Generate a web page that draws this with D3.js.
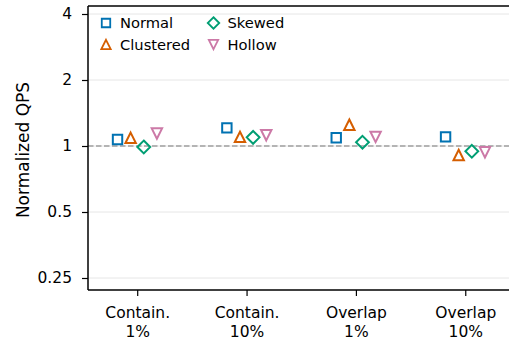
<!DOCTYPE html>
<html>
<head>
<meta charset="utf-8">
<script src="https://cdn.jsdelivr.net/npm/d3@7"></script>
<style>
  body { margin: 0; background: #fff; }
  svg { font-family: "DejaVu Sans", sans-serif; }
</style>
</head>
<body>
<div id="chart"></div>
<script>
// categories on the x axis
var categories = ["Contain.\n1%", "Contain.\n10%", "Overlap\n1%", "Overlap\n10%"];

// series values (normalized QPS)
var normal    = [1.07, 1.21, 1.09, 1.10];
var clustered = [1.09, 1.10, 1.25, 0.91];
var skewed    = [0.99, 1.095, 1.04, 0.946];
var hollow    = [1.14, 1.12, 1.10, 0.936];

var seriesNames = ["Normal", "Clustered", "Skewed", "Hollow"];
var yTicks = [0.25, 0.5, 1, 2, 4];

var series = [
    { name: "Normal", values: normal, color: "#0072B2", shape: "square" },
    { name: "Clustered", values: clustered, color: "#D55E00", shape: "up" },
    { name: "Skewed", values: skewed, color: "#009E73", shape: "diamond" },
    { name: "Hollow", values: hollow, color: "#CC79A7", shape: "down" }
];

var width = 509,
    height = 345;
var margin = { left: 88, right: 0, top: 6, bottom: 55 };

var svg = d3.select("#chart").append("svg")
    .attr("width", width)
    .attr("height", height);

var x = d3.scaleLinear()
    .domain([-0.45, 3.4])
    .range([margin.left, width - margin.right]);

var y = d3.scaleLog()
    .base(2)
    .domain([0.25 / Math.pow(2, 12 / 66), 4 * Math.pow(2, 8 / 66)])
    .range([height - margin.bottom, margin.top]);

var offsets = [-0.18, -0.06, 0.06, 0.18];

// grid
svg.append("g")
    .selectAll("line")
    .data(yTicks)
    .enter().append("line")
    .attr("x1", margin.left)
    .attr("x2", width - margin.right)
    .attr("y1", function (d) { return y(d); })
    .attr("y2", function (d) { return y(d); })
    .attr("stroke", "#e6e6e6")
    .attr("stroke-width", 1);

// reference line at 1
svg.append("line")
    .attr("x1", margin.left)
    .attr("x2", width - margin.right)
    .attr("y1", y(1))
    .attr("y2", y(1))
    .attr("stroke", "#b4b4b4")
    .attr("stroke-width", 2)
    .attr("stroke-dasharray", "5.5,2.5");

// y axis
var yAxis = d3.axisLeft(y)
    .tickValues(yTicks)
    .tickFormat(function (d) { return String(d); })
    .tickSize(6)
    .tickPadding(10);

var gy = svg.append("g")
    .attr("transform", "translate(" + margin.left + ",0)")
    .call(yAxis)
    .attr("font-size", null)
    .attr("font-family", null);
gy.select(".domain").remove();
gy.selectAll("line").attr("stroke", "#000").attr("stroke-width", 1.2);
gy.selectAll("text")
    .style("font-size", "15.5px")
    .attr("fill", "#000");

// x axis
var xAxis = d3.axisBottom(x)
    .tickValues(d3.range(categories.length))
    .tickFormat("")
    .tickSize(6);

var gx = svg.append("g")
    .attr("transform", "translate(0," + (height - margin.bottom) + ")")
    .call(xAxis)
    .attr("font-size", null)
    .attr("font-family", null);
gx.select(".domain").remove();
gx.selectAll("line").attr("stroke", "#000").attr("stroke-width", 1.2);

gx.selectAll(".tick").each(function (d, i) {
    var lines = categories[i].split("\n");
    var t = d3.select(this).append("text")
        .attr("text-anchor", "middle")
        .attr("fill", "#000")
        .style("font-size", "15.5px");
    lines.forEach(function (l, j) {
        t.append("tspan").attr("x", 0).attr("y", 28 + j * 19).text(l);
    });
});

// spines
svg.append("line")
    .attr("x1", margin.left).attr("x2", margin.left)
    .attr("y1", margin.top).attr("y2", height - margin.bottom)
    .attr("stroke", "#000").attr("stroke-width", 1.5);
svg.append("line")
    .attr("x1", margin.left).attr("x2", width)
    .attr("y1", height - margin.bottom).attr("y2", height - margin.bottom)
    .attr("stroke", "#000").attr("stroke-width", 1.5);
svg.append("line")
    .attr("x1", margin.left).attr("x2", width)
    .attr("y1", margin.top).attr("y2", margin.top)
    .attr("stroke", "#000").attr("stroke-width", 1.5);

// y label
svg.append("text")
    .attr("transform", "translate(23," + ((margin.top + height - margin.bottom) / 2 + 2) + ") rotate(-90)")
    .attr("text-anchor", "middle")
    .attr("dominant-baseline", "central")
    .style("font-size", "17px")
    .attr("fill", "#000")
    .text("Normalized QPS");

function markerPath(shape) {
    var s = 4.7;
    if (shape === "square") return "M" + (-s) + "," + (-s) + "H" + s + "V" + s + "H" + (-s) + "Z";
    if (shape === "diamond") { var r = 6.4; return "M0," + (-r) + "L" + r + ",0L0," + r + "L" + (-r) + ",0Z"; }
    var t = 5.2;
    if (shape === "up") return "M0," + (-t) + "L" + t + "," + t + "L" + (-t) + "," + t + "Z";
    return "M0," + t + "L" + t + "," + (-t) + "L" + (-t) + "," + (-t) + "Z";
}

// markers
series.forEach(function (s, k) {
    svg.append("g")
        .selectAll("path")
        .data(s.values)
        .enter().append("path")
        .attr("d", markerPath(s.shape))
        .attr("transform", function (d, i) {
            return "translate(" + x(i + offsets[k]) + "," + y(d) + ")";
        })
        .attr("fill", "none")
        .attr("stroke", s.color)
        .attr("stroke-width", 2);
});

// legend
var legendPos = [[106, 23], [106, 44.5], [213.5, 23], [213.5, 44.5]];
series.forEach(function (s, k) {
    var g = svg.append("g")
        .attr("transform", "translate(" + legendPos[k][0] + "," + legendPos[k][1] + ")");
    g.append("path")
        .attr("d", markerPath(s.shape))
        .attr("transform", "scale(0.9)")
        .attr("fill", "none")
        .attr("stroke", s.color)
        .attr("stroke-width", 2);
    g.append("text")
        .attr("x", 14)
        .attr("y", 5.2)
        .style("font-size", "14.7px")
        .attr("fill", "#000")
        .text(seriesNames[k]);
});
</script>
</body>
</html>
